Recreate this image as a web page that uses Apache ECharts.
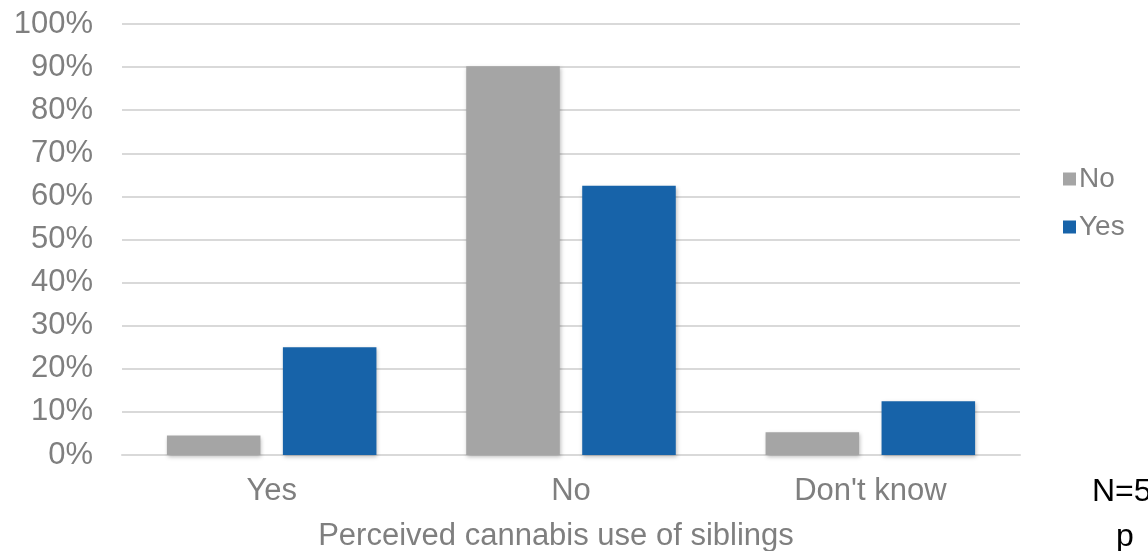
<!DOCTYPE html>
<html>
<head>
<meta charset="utf-8">
<script src="https://cdn.jsdelivr.net/npm/echarts@6/dist/echarts.min.js"></script>
<style>
  html, body { margin: 0; padding: 0; background: #fff; }
  #chart { width: 1148px; height: 551px; }
</style>
</head>
<body>
<div id="chart"></div>
<script>
// Categories: perceived cannabis use of siblings
const categories = ['Yes', 'No', "Don't know"];
// Share of respondents (%) per group
const seriesNo = [4.5, 90.2, 5.3];
const seriesYes = [25, 62.5, 12.5];
const seriesNames = ['No', 'Yes'];
const yTicks = [0, 10, 20, 30, 40, 50, 60, 70, 80, 90, 100];

const textGrey = '#7f7f7f';
const font = 'Liberation Sans, Arial, sans-serif';
const barShadow = {
  shadowBlur: 4,
  shadowOffsetX: 1,
  shadowOffsetY: 2,
  shadowColor: 'rgba(0,0,0,0.25)'
};

const chart = echarts.init(document.getElementById('chart'), null, { renderer: 'canvas' });
chart.setOption({
  animation: false,
  grid: { left: 122, right: 128, top: 24, bottom: 96, containLabel: false, outerBoundsMode: 'none' },
  legend: {
    data: seriesNames,
    orient: 'vertical',
    left: 1058,
    top: 160,
    itemWidth: 13,
    itemHeight: 13,
    itemGap: 20,
    icon: 'rect',
    textStyle: { color: textGrey, fontSize: 28, fontFamily: font, padding: [0, 0, 0, -2] }
  },
  xAxis: {
    type: 'category',
    data: categories,
    name: 'Perceived cannabis use of siblings',
    nameLocation: 'middle',
    nameGap: 66,
    nameTextStyle: { color: textGrey, fontSize: 31, fontFamily: font, padding: [0, 30, 0, 0] },
    axisLine: { show: true, lineStyle: { color: '#d9d9d9', width: 2 } },
    axisTick: { show: false },
    axisLabel: { color: textGrey, fontSize: 31, fontFamily: font, margin: 21 }
  },
  yAxis: {
    type: 'value',
    min: yTicks[0],
    max: yTicks[yTicks.length - 1],
    interval: 10,
    axisLine: { show: false },
    axisTick: { show: false },
    splitLine: { lineStyle: { color: '#d9d9d9', width: 2 } },
    axisLabel: {
      color: textGrey, fontSize: 31, fontFamily: font, margin: 29,
      formatter: v => v + '%'
    }
  },
  series: [
    {
      name: seriesNames[0], type: 'bar', data: seriesNo,
      barGap: '24%', barCategoryGap: '30%',
      itemStyle: Object.assign({ color: '#a5a5a5' }, barShadow)
    },
    {
      name: seriesNames[1], type: 'bar', data: seriesYes,
      itemStyle: Object.assign({ color: '#1763a9' }, barShadow)
    }
  ],
  graphic: [
    { type: 'text', left: 1092, top: 476, style: { text: 'N=5', fill: '#000', fontSize: 32, fontFamily: font } },
    { type: 'text', left: 1116, top: 521, style: { text: 'p', fill: '#000', fontSize: 32, fontFamily: font } }
  ]
});
</script>
</body>
</html>
